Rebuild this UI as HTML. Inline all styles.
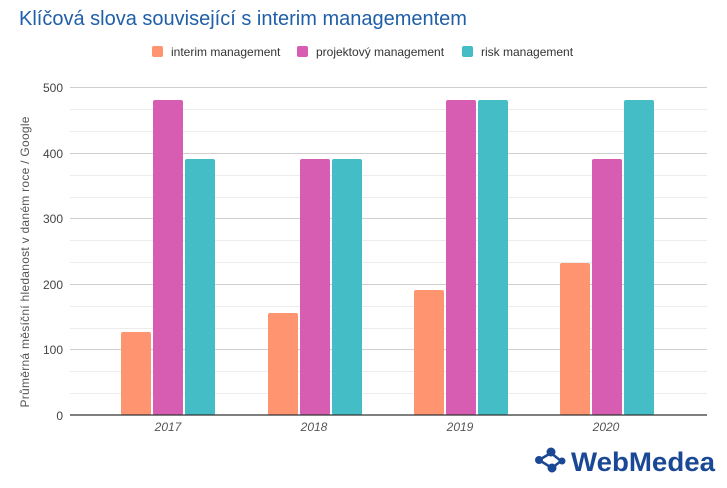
<!DOCTYPE html>
<html><head><meta charset="utf-8"><style>
body{margin:0;width:727px;height:483px;background:#fff;overflow:hidden;font-family:"Liberation Sans",sans-serif}
</style></head><body>
<svg width="727" height="483" xmlns="http://www.w3.org/2000/svg" font-family="Liberation Sans, sans-serif">
<text x="19" y="25" font-size="20" fill="#1f5fa9">Klíčová slova související s interim managementem</text>
<rect x="152" y="46" width="11" height="11" rx="2" fill="#fe9470"/>
<text x="171" y="56" font-size="12" fill="#333">interim management</text>
<rect x="297" y="46" width="11" height="11" rx="2" fill="#d65db1"/>
<text x="316" y="56" font-size="12" fill="#333">projektový management</text>
<rect x="462" y="46" width="11" height="11" rx="2" fill="#45bdc6"/>
<text x="481" y="56" font-size="12" fill="#333">risk management</text>
<g stroke="#ececec" stroke-width="1">
<line x1="70" x2="707" y1="109.5" y2="109.5"/><line x1="70" x2="707" y1="131.5" y2="131.5"/>
<line x1="70" x2="707" y1="175.5" y2="175.5"/><line x1="70" x2="707" y1="197.5" y2="197.5"/>
<line x1="70" x2="707" y1="240.5" y2="240.5"/><line x1="70" x2="707" y1="262.5" y2="262.5"/>
<line x1="70" x2="707" y1="306.5" y2="306.5"/><line x1="70" x2="707" y1="328.5" y2="328.5"/>
<line x1="70" x2="707" y1="371.5" y2="371.5"/><line x1="70" x2="707" y1="393.5" y2="393.5"/>
</g>
<g stroke="#cfcfcf" stroke-width="1">
<line x1="70" x2="707" y1="87.5" y2="87.5"/><line x1="70" x2="707" y1="153.5" y2="153.5"/>
<line x1="70" x2="707" y1="218.5" y2="218.5"/><line x1="70" x2="707" y1="284.5" y2="284.5"/>
<line x1="70" x2="707" y1="349.5" y2="349.5"/>
</g>
<g font-size="12" fill="#444" text-anchor="end">
<text x="63" y="92">500</text><text x="63" y="158">400</text><text x="63" y="223">300</text>
<text x="63" y="289">200</text><text x="63" y="354">100</text><text x="63" y="420">0</text>
</g>
<text transform="translate(29,262) rotate(-90)" font-size="12" fill="#555" text-anchor="middle" textLength="291" lengthAdjust="spacing">Průměrná měsíční hledanost v daném roce / Google</text>
<g>
<rect x="121" y="332" width="30" height="83" rx="2" fill="#fe9470"/>
<rect x="153" y="100" width="30" height="315" rx="2" fill="#d65db1"/>
<rect x="185" y="159" width="30" height="256" rx="2" fill="#45bdc6"/>
<rect x="268" y="313" width="30" height="102" rx="2" fill="#fe9470"/>
<rect x="300" y="159" width="30" height="256" rx="2" fill="#d65db1"/>
<rect x="332" y="159" width="30" height="256" rx="2" fill="#45bdc6"/>
<rect x="414" y="290" width="30" height="125" rx="2" fill="#fe9470"/>
<rect x="446" y="100" width="30" height="315" rx="2" fill="#d65db1"/>
<rect x="478" y="100" width="30" height="315" rx="2" fill="#45bdc6"/>
<rect x="560" y="263" width="30" height="152" rx="2" fill="#fe9470"/>
<rect x="592" y="159" width="30" height="256" rx="2" fill="#d65db1"/>
<rect x="624" y="100" width="30" height="315" rx="2" fill="#45bdc6"/>
</g>
<line x1="70" x2="707" y1="415" y2="415" stroke="#333" stroke-width="1.2"/>
<g font-size="12" fill="#555" font-style="italic" text-anchor="middle">
<text x="168" y="431">2017</text><text x="314" y="431">2018</text><text x="460" y="431">2019</text><text x="606" y="431">2020</text>
</g>
<g fill="#1a4895" stroke="#1a4895">
<line x1="539" y1="460" x2="551" y2="453" stroke-width="2.5"/>
<line x1="539" y1="460" x2="552" y2="468" stroke-width="2.5"/>
<line x1="551" y1="453" x2="561" y2="461" stroke-width="2.5"/>
<line x1="552" y1="468" x2="561" y2="461" stroke-width="2.5"/>
<circle cx="539" cy="460" r="3.5"/><circle cx="551" cy="452" r="4"/><circle cx="552" cy="468" r="4"/><circle cx="562" cy="461" r="3"/>
</g>
<text x="571" y="471" font-size="27" font-weight="bold" fill="#1a4895" textLength="144" lengthAdjust="spacingAndGlyphs">WebMedea</text>
</svg>
</body></html>
